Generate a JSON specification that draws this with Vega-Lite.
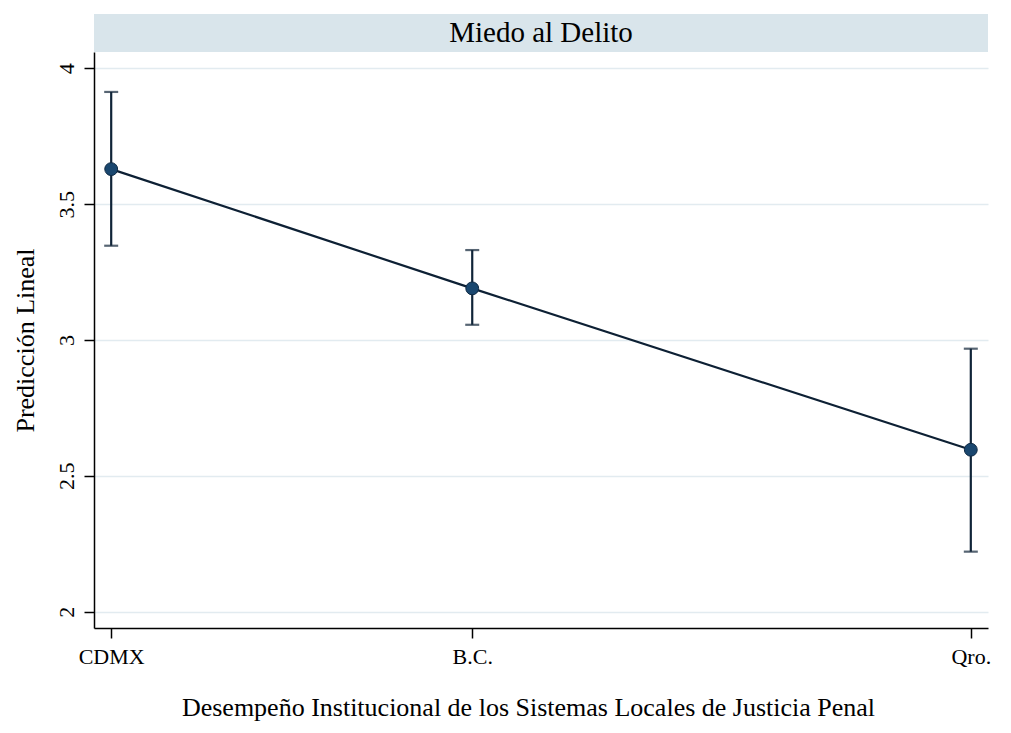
{
  "$schema": "https://vega.github.io/schema/vega-lite/v6.json",
  "background": "white",
  "padding": {"left": 12, "top": 14, "right": 10, "bottom": 5},
  "config": {
    "font": "Liberation Serif",
    "view": {"stroke": null},
    "concat": {"spacing": 0},
    "axis": {"labelColor": "black", "titleColor": "black", "titleFontWeight": "normal", "domainColor": "black", "tickColor": "black", "domainWidth": 1.5, "tickWidth": 1.5, "tickSize": 10}
  },
  "datasets": {
    "panel": [{"panel": "Miedo al Delito"}],
    "pred": [
      {"estado": "CDMX", "desempeno": 0, "prediccion": 3.629, "lo": 3.347, "hi": 3.913},
      {"estado": "B.C.", "desempeno": 0.42, "prediccion": 3.19, "lo": 3.056, "hi": 3.331},
      {"estado": "Qro.", "desempeno": 1, "prediccion": 2.596, "lo": 2.221, "hi": 2.968}
    ]
  },
  "vconcat": [
    {
      "width": 894,
      "height": 38,
      "data": {"name": "panel"},
      "view": {"fill": "#d9e5eb", "stroke": null},
      "mark": {"type": "text", "fontSize": 29, "font": "Liberation Serif", "color": "black", "baseline": "middle", "align": "center"},
      "encoding": {"text": {"field": "panel", "type": "nominal"}}
    },
    {
      "width": 894,
      "height": 576,
      "data": {"name": "pred"},
      "encoding": {
        "x": {
          "field": "desempeno",
          "type": "quantitative",
          "scale": {"domain": [-0.02, 1.02], "nice": false, "zero": false},
          "axis": {
            "values": [0, 0.42, 1],
            "labelExpr": "datum.value == 0 ? 'CDMX' : datum.value == 1 ? 'Qro.' : 'B.C.'",
            "title": "Desempeño Institucional de los Sistemas Locales de Justicia Penal",
            "grid": false,
            "labelFontSize": 22,
            "labelPadding": 8,
            "labelFlush": false,
            "titleFontSize": 26,
            "titlePadding": 27,
            "titleX": 434,
            "titleAlign": "center"
          }
        }
      },
      "layer": [
        {
          "mark": {"type": "errorbar", "color": "#102438", "thickness": 2.2, "ticks": {"size": 14, "thickness": 2.2, "color": "#102438"}},
          "encoding": {
            "y": {"field": "lo", "type": "quantitative", "title": "Predicción Lineal", "scale": {"domain": [1.94, 4.06], "nice": false, "zero": false}},
            "y2": {"field": "hi"}
          }
        },
        {
          "mark": {"type": "line", "color": "#0d2034", "strokeWidth": 2.2},
          "encoding": {
            "y": {"field": "prediccion", "type": "quantitative", "title": "Predicción Lineal"}
          }
        },
        {
          "mark": {"type": "circle", "size": 165, "fill": "#1a476f", "stroke": "#0f2a44", "strokeWidth": 1, "opacity": 1},
          "encoding": {
            "y": {
              "field": "prediccion",
              "type": "quantitative",
              "scale": {"domain": [1.94, 4.06], "nice": false, "zero": false},
              "axis": {
                "values": [2, 2.5, 3, 3.5, 4],
                "format": "~g",
                "title": "Predicción Lineal",
                "labelAngle": 270,
                "labelFontSize": 22,
                "labelPadding": 6,
                "titleFontSize": 26,
                "titlePadding": 17,
                "gridColor": "#e2ebf0",
                "gridWidth": 1.5
              }
            }
          }
        }
      ]
    }
  ]
}
